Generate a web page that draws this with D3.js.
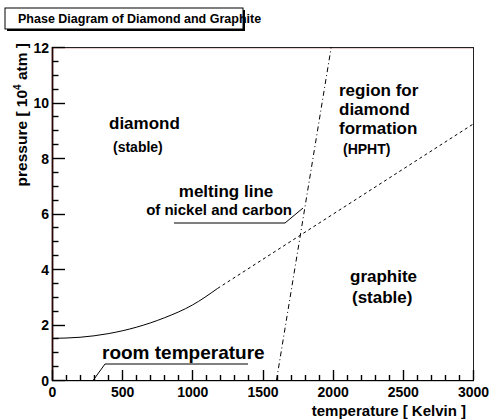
<!DOCTYPE html>
<html>
<head>
<meta charset="utf-8">
<script src="https://cdn.jsdelivr.net/npm/d3@7"></script>
<style>
  html, body { margin: 0; padding: 0; background: #fff; }
  svg { display: block; font-family: "Liberation Sans", Arial, Helvetica, sans-serif; font-weight: bold; }
</style>
</head>
<body>
<svg id="chart" width="491" height="420"></svg>
<script>
// Axis ranges and tick values
const xDomain = [0, 3000];
const yDomain = [0, 12];
const xMajorTicks = [0, 500, 1000, 1500, 2000, 2500, 3000];
const yMajorTicks = [0, 2, 4, 6, 8, 10, 12];
const xMinorStep = 100;
const yMinorStep = 0.5;

// Graphite/diamond equilibrium line: measured (solid) and extrapolated (dashed)
const equilibriumMeasured = [
  [0, 1.5], [200, 1.54], [400, 1.67], [600, 1.9], [800, 2.24], [1000, 2.7], [1180, 3.3]
];
const equilibriumExtrapolated = [[1180, 3.3], [3000, 9.22]];

// Melting line of the nickel/carbon solvent
const meltingLine = [[1600, 0], [1990, 12]];

const svg = d3.select("#chart");
const plot = { left: 52, right: 473, top: 47, bottom: 380 };

const x = d3.scaleLinear().domain(xDomain).range([plot.left, plot.right]);
const y = d3.scaleLinear().domain(yDomain).range([plot.bottom, plot.top]);

// Title box with drop shadow
const tb = { x: 5, y: 8, w: 238, h: 21 };
svg.append("rect").attr("x", tb.x + 2).attr("y", tb.y + 2).attr("width", tb.w).attr("height", tb.h).attr("fill", "#000");
svg.append("rect").attr("x", tb.x).attr("y", tb.y).attr("width", tb.w).attr("height", tb.h)
  .attr("fill", "#fff").attr("stroke", "#000").attr("stroke-width", 1);
svg.append("text").attr("x", tb.x + 13).attr("y", tb.y + 15).attr("font-size", 12.5)
  .text("Phase Diagram of Diamond and Graphite");

// Frame
svg.append("line").attr("x1", plot.left).attr("x2", plot.right).attr("y1", plot.top + 1).attr("y2", plot.top + 1)
  .attr("stroke", "#d8a0a0").attr("stroke-width", 1);
svg.append("rect").attr("x", plot.left + 0.5).attr("y", plot.top + 0.5)
  .attr("width", plot.right - plot.left).attr("height", plot.bottom - plot.top)
  .attr("fill", "none").attr("stroke", "#222").attr("stroke-width", 1);

// Axis lines
svg.append("rect").attr("x", plot.left).attr("y", plot.bottom).attr("width", plot.right - plot.left + 1).attr("height", 1.2)
  .attr("fill", "#000");
svg.append("rect").attr("x", plot.left - 0.4).attr("y", plot.top).attr("width", 1.8).attr("height", plot.bottom - plot.top + 1)
  .attr("fill", "#2b0505");

// Tick labels via d3 axes (labels only)
const xAxis = svg.append("g").attr("transform", `translate(0,${plot.bottom})`)
  .call(d3.axisBottom(x).tickValues(xMajorTicks).tickSize(0).tickPadding(14).tickFormat(d3.format("d")));
const yAxis = svg.append("g").attr("transform", `translate(${plot.left},0)`)
  .call(d3.axisLeft(y).tickValues(yMajorTicks).tickSize(0).tickPadding(3).tickFormat(d3.format("d")));
xAxis.select(".domain").remove();
yAxis.select(".domain").remove();
xAxis.selectAll(".tick line").remove();
yAxis.selectAll(".tick line").remove();
svg.selectAll(".tick text").attr("font-size", 14).attr("font-weight", "bold")
  .attr("font-family", "Liberation Sans, Arial, sans-serif").attr("fill", "#000");
xAxis.selectAll(".tick text").attr("dy", "0.2em");
yAxis.selectAll(".tick text").attr("dy", "0.36em");

// Tick marks, drawn inward from the bottom and left axes (on top of everything on the axes)
const xMinor = d3.range(xDomain[0], xDomain[1] + 1, xMinorStep).filter(v => v % 500 !== 0);
const yMinor = d3.range(yDomain[0], yDomain[1] + 0.001, yMinorStep).filter(v => v % 2 !== 0);
const xTickData = xMajorTicks.map(v => ({ v, len: 10 })).concat(xMinor.map(v => ({ v, len: 5 })));
const yTickData = yMajorTicks.map(v => ({ v, len: 13 })).concat(yMinor.map(v => ({ v, len: 6.5 })));
const tickLayer = svg.append("g").attr("class", "tickmarks");
xTickData.forEach(d => {
  tickLayer.append("rect").attr("x", Math.round(x(d.v)) - 0.2).attr("y", plot.bottom - d.len)
    .attr("width", 1.4).attr("height", d.len).attr("fill", "#000");
});
yTickData.forEach(d => {
  tickLayer.append("rect").attr("x", plot.left).attr("y", Math.round(y(d.v)) - 0.2)
    .attr("width", d.len).attr("height", 1.4).attr("fill", "#000");
});

// Axis titles
svg.append("text").attr("x", 466).attr("y", 416).attr("text-anchor", "end").attr("font-size", 15)
  .text("temperature [ Kelvin ]");
const yTitle = svg.append("text").attr("transform", `translate(27,43) rotate(-90)`)
  .attr("text-anchor", "end").attr("font-size", 15.5);
yTitle.append("tspan").text("pressure [ 10");
yTitle.append("tspan").attr("font-size", 10).attr("dy", -6).text("4");
yTitle.append("tspan").attr("dy", 6).text(" atm ]");

// Curves
svg.append("path").datum(equilibriumMeasured)
  .attr("d", d3.line().x(d => x(d[0])).y(d => y(d[1])).curve(d3.curveMonotoneX))
  .attr("fill", "none").attr("stroke", "#000").attr("stroke-width", 1);
svg.append("path").datum(equilibriumExtrapolated)
  .attr("d", d3.line().x(d => x(d[0])).y(d => y(d[1]))).attr("fill", "none")
  .attr("stroke", "#000").attr("stroke-width", 1).attr("stroke-dasharray", "3,3");
svg.append("path").datum(meltingLine)
  .attr("d", d3.line().x(d => x(d[0])).y(d => y(d[1]))).attr("fill", "none")
  .attr("stroke", "#000").attr("stroke-width", 1).attr("stroke-dasharray", "5,3,1,3");

// Region labels
function label(txt, px, py, size, anchor) {
  return svg.append("text").attr("x", px).attr("y", py).attr("font-size", size)
    .attr("text-anchor", anchor || "start").text(txt);
}
label("diamond", 109, 129, 17);
label("(stable)", 113, 152, 14);

label("region for", 339, 96, 17);
label("diamond", 339, 115, 17);
label("formation", 339, 134, 17);
label("(HPHT)", 343, 154, 14);

label("graphite", 350, 282, 17);
label("(stable)", 352, 303, 17);

label("melting line", 226, 197, 17, "middle");
label("of nickel and carbon", 292, 215, 15, "end");
svg.append("polyline")
  .attr("points", [[174, 223], [285, 223], [303, 208]].map(p => p.join(",")).join(" "))
  .attr("fill", "none").attr("stroke", "#000").attr("stroke-width", 1);

label("room temperature", 102, 359, 19);
svg.append("polyline")
  .attr("points", [[248, 364], [105, 364], [x(295), plot.bottom]].map(p => p.join(",")).join(" "))
  .attr("fill", "none").attr("stroke", "#000").attr("stroke-width", 1);
</script>
</body>
</html>
